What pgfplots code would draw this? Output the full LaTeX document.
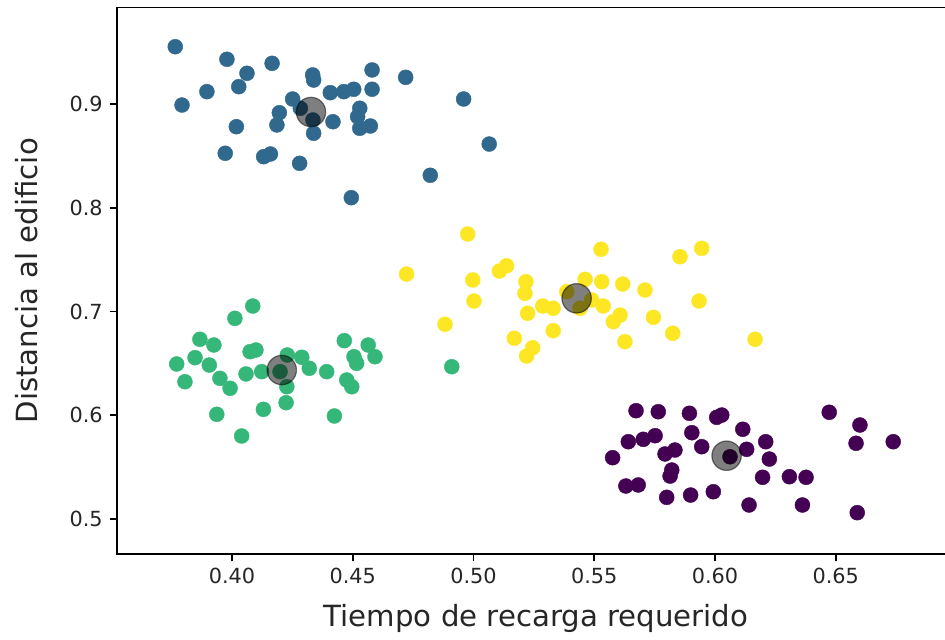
\documentclass[border=0pt]{standalone}
\usepackage{pgfplots}
\pgfplotsset{compat=1.18}
\usepackage{fontspec}
\setmainfont{DejaVu Sans}
\definecolor{vpurple}{HTML}{440154}
\definecolor{vblue}{HTML}{31688E}
\definecolor{vgreen}{HTML}{35B779}
\definecolor{vyellow}{HTML}{FDE725}
\begin{document}
\begin{tikzpicture}
\begin{axis}[
  name=ax,
  scale only axis,
  width=419pt, height=273.25pt,
  xmin=0.35238, xmax=0.69938,
  ymin=0.46627, ymax=0.99301,
  xtick={0.40,0.45,0.50,0.55,0.60,0.65},
  ytick={0.5,0.6,0.7,0.8,0.9},
  xticklabels={0.40,0.45,0.50,0.55,0.60,0.65},
  yticklabels={0.5,0.6,0.7,0.8,0.9},
  tick pos=left,
  tick align=outside,
  major tick length=3.64pt,
  every tick/.style={black, line width=0.8pt},
  axis line style={line width=0.8pt},
  ticklabel style={font=\fontsize{10.4pt}{12pt}\selectfont, text=black!85},
  label style={font=\fontsize{14.6pt}{17pt}\selectfont, text=black!85},
  xlabel={Tiempo de recarga requerido},
  ylabel={Distancia al edificio},
  xlabel style={yshift=-3pt},
  ylabel style={yshift=9pt},
  clip=false,
]
% cluster (blue)
\addplot[only marks, mark=*, mark size=3.75pt, color=vblue, mark options={line width=0.2pt}] coordinates {
(0.3765,0.9552) (0.3793,0.8990) (0.3896,0.9119) (0.3979,0.9431) (0.4062,0.9296)
(0.4028,0.9167) (0.4166,0.9392) (0.4018,0.8781) (0.3972,0.8525) (0.4131,0.8492)
(0.4159,0.8518) (0.4280,0.8428) (0.4186,0.8798) (0.4196,0.8916) (0.4251,0.9048)
(0.4334,0.9280) (0.4338,0.9231) (0.4338,0.8718) (0.4335,0.8846) (0.4283,0.8959)
(0.4407,0.9109) (0.4463,0.9119) (0.4504,0.9142) (0.4418,0.8829) (0.4580,0.9328)
(0.4580,0.9142) (0.4529,0.8959) (0.4520,0.8878) (0.4529,0.8766) (0.4573,0.8788)
(0.4719,0.9257) (0.4959,0.9048) (0.5065,0.8614) (0.4821,0.8313) (0.4494,0.8097)
};
% cluster (green)
\addplot[only marks, mark=*, mark size=3.75pt, color=vgreen, mark options={line width=0.2pt}] coordinates {
(0.4086,0.7053) (0.4012,0.6934) (0.3867,0.6732) (0.3925,0.6677) (0.3847,0.6555)
(0.3771,0.6494) (0.3906,0.6484) (0.3805,0.6323) (0.3950,0.6356) (0.3992,0.6260)
(0.4075,0.6613) (0.4099,0.6629) (0.4058,0.6398) (0.4123,0.6420) (0.4229,0.6581)
(0.4289,0.6559) (0.4320,0.6453) (0.4392,0.6420) (0.4227,0.6275) (0.4224,0.6121)
(0.4130,0.6057) (0.3937,0.6009) (0.4040,0.5800) (0.4424,0.5993) (0.4465,0.6719)
(0.4564,0.6677) (0.4505,0.6564) (0.4516,0.6501) (0.4592,0.6564) (0.4475,0.6340)
(0.4496,0.6275) (0.4199,0.6420) (0.4910,0.6468)
};
% cluster (yellow)
\addplot[only marks, mark=*, mark size=3.75pt, color=vyellow, mark options={line width=0.2pt}] coordinates {
(0.4976,0.7747) (0.4723,0.7361) (0.4997,0.7304) (0.5002,0.7101) (0.4882,0.6877)
(0.5107,0.7390) (0.5137,0.7441) (0.5217,0.7287) (0.5213,0.7175) (0.5224,0.6983)
(0.5287,0.7053) (0.5330,0.7031) (0.5330,0.6815) (0.5169,0.6742) (0.5245,0.6651)
(0.5220,0.6571) (0.5528,0.7600) (0.5462,0.7310) (0.5531,0.7287) (0.5618,0.7265)
(0.5710,0.7207) (0.5537,0.7053) (0.5607,0.6966) (0.5579,0.6902) (0.5745,0.6944)
(0.5627,0.6709) (0.5825,0.6790) (0.5855,0.7528) (0.5945,0.7609) (0.5934,0.7101)
(0.6166,0.6732) (0.5386,0.7191) (0.5489,0.7111) (0.5441,0.7031)
};
% cluster (purple)
\addplot[only marks, mark=*, mark size=3.75pt, color=vpurple, mark options={line width=0.2pt}] coordinates {
(0.5673,0.6044) (0.5765,0.6034) (0.5894,0.6019) (0.6007,0.5980) (0.6028,0.6002)
(0.5641,0.5745) (0.5703,0.5768) (0.5752,0.5803) (0.5904,0.5832) (0.5945,0.5697)
(0.5576,0.5591) (0.5793,0.5627) (0.5834,0.5665) (0.5821,0.5472) (0.5814,0.5414)
(0.5631,0.5318) (0.5682,0.5328) (0.5800,0.5209) (0.5899,0.5231) (0.5993,0.5263)
(0.6115,0.5865) (0.6131,0.5672) (0.6210,0.5745) (0.6225,0.5578) (0.6197,0.5402)
(0.6141,0.5135) (0.6308,0.5408) (0.6377,0.5402) (0.6362,0.5135) (0.6473,0.6029)
(0.6600,0.5906) (0.6584,0.5730) (0.6738,0.5745) (0.6589,0.5061) (0.6062,0.5600)
};
% centroids
\addplot[only marks, mark=*, mark size=7.35pt, color=black, mark options={fill=black, fill opacity=0.5, draw opacity=0.5, line width=0.6pt}] coordinates {
(0.4327,0.8923) (0.4206,0.6436) (0.5427,0.7127) (0.6048,0.5610)
};
\end{axis}
\pgfresetboundingbox
\useasboundingbox ([xshift=-58.5pt,yshift=-42.5pt]ax.south west) rectangle ([xshift=414pt,yshift=277pt]ax.south west);
\end{tikzpicture}
\end{document}
